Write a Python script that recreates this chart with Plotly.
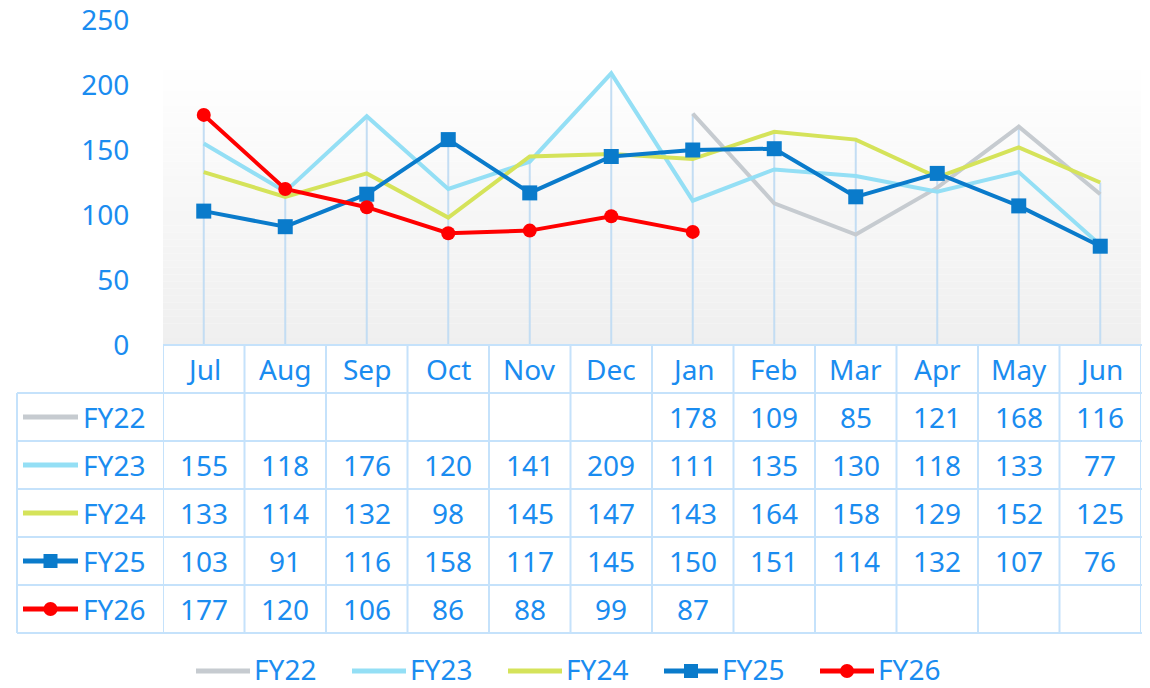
import plotly.graph_objects as go

months = ["Jul", "Aug", "Sep", "Oct", "Nov", "Dec", "Jan", "Feb", "Mar", "Apr", "May", "Jun"]
series_names = ["FY22", "FY23", "FY24", "FY25", "FY26"]
fy22 = [None, None, None, None, None, None, 178, 109, 85, 121, 168, 116]
fy23 = [155, 118, 176, 120, 141, 209, 111, 135, 130, 118, 133, 77]
fy24 = [133, 114, 132, 98, 145, 147, 143, 164, 158, 129, 152, 125]
fy25 = [103, 91, 116, 158, 117, 145, 150, 151, 114, 132, 107, 76]
fy26 = [177, 120, 106, 86, 88, 99, 87, None, None, None, None, None]
y_ticks = [0, 50, 100, 150, 200, 250]

colors = ["#c6cbd0", "#94dff5", "#d5e35a", "#0a7bcb", "#ff0000"]
widths = [4, 4, 4, 4, 4]
markers = [None, None, None, "square", "circle"]
data = [fy22, fy23, fy24, fy25, fy26]

W, H = 1150, 688
OFF = 8  # page body offset
TXT = "#1a8cf0"
GRID = "#c5e2fb"
FONT = "Noto Sans"


def py(y):
    return 1 - (y - OFF) / H


def px(x):
    return (x - OFF) / W


x_left, x_right = 163, 1141
y_axis_bottom, y_axis_top = 345, 20

fig = go.Figure()

# drop lines (from highest value of each category to axis)
dx, dy = [], []
for i, m in enumerate(months):
    vals = [s[i] for s in data if s[i] is not None]
    dx += [m, m, None]
    dy += [0, max(vals), None]
fig.add_trace(go.Scatter(x=dx, y=dy, mode="lines", line=dict(color="#c3ddf3", width=2),
                         hoverinfo="skip", showlegend=False))

for name, vals, c, w, mk in zip(series_names, data, colors, widths, markers):
    if mk:
        fig.add_trace(go.Scatter(x=months, y=vals, name=name, mode="lines+markers",
                                 line=dict(color=c, width=w),
                                 marker=dict(symbol=mk, size=15 if mk == "square" else 14, color=c),
                                 showlegend=False))
    else:
        fig.add_trace(go.Scatter(x=months, y=vals, name=name, mode="lines",
                                 line=dict(color=c, width=w), showlegend=False))

shapes = []
# gradient background of plot area
g_top, g_bot = 63, y_axis_bottom
nb = 40
for k in range(nb):
    y0 = g_top + (g_bot - g_top) * k / nb
    y1 = g_top + (g_bot - g_top) * (k + 1) / nb
    v = round(255 - 16 * (k + 0.5) / nb)
    shapes.append(dict(type="rect", xref="x domain", yref="paper", x0=0, x1=1,
                       y0=py(y1), y1=py(y0), fillcolor=f"rgb({v},{v},{v})",
                       line=dict(width=0), layer="below"))

# table grid
row_h = 48
header_top = y_axis_bottom
rows_top = header_top + row_h
table_bottom = rows_top + row_h * len(series_names)
lw = 2
shapes.append(dict(type="line", xref="paper", yref="paper", x0=px(x_left), x1=px(x_right + 1),
                   y0=py(header_top), y1=py(header_top), line=dict(color=GRID, width=lw)))
for r in range(len(series_names) + 1):
    y = rows_top + r * row_h
    shapes.append(dict(type="line", xref="paper", yref="paper", x0=px(17), x1=px(x_right + 1),
                       y0=py(y), y1=py(y), line=dict(color=GRID, width=lw)))
shapes.append(dict(type="line", xref="paper", yref="paper", x0=px(17), x1=px(17),
                   y0=py(rows_top), y1=py(table_bottom), line=dict(color=GRID, width=lw)))
for k in range(len(months) + 1):
    shapes.append(dict(type="line", xref="x", yref="paper", x0=k - 0.5, x1=k - 0.5,
                       y0=py(header_top), y1=py(table_bottom), line=dict(color=GRID, width=lw)))

annotations = []
fs = 28
for m in months:
    annotations.append(dict(x=m, xref="x", y=py(header_top + row_h / 2), yref="paper",
                            text=m, showarrow=False, font=dict(family=FONT, size=fs, color=TXT),
                            xanchor="center", yanchor="middle"))


def legend_key(x0, x1, yc, c, mk):
    out = [dict(type="line", xref="paper", yref="paper", x0=px(x0), x1=px(x1), y0=py(yc), y1=py(yc),
                line=dict(color=c, width=5))]
    xm = (x0 + x1) / 2
    if mk == "square":
        out.append(dict(type="rect", xref="paper", yref="paper", x0=px(xm - 7), x1=px(xm + 7),
                        y0=py(yc + 7), y1=py(yc - 7), fillcolor=c, line=dict(width=0)))
    elif mk == "circle":
        out.append(dict(type="circle", xref="paper", yref="paper", x0=px(xm - 7), x1=px(xm + 7),
                        y0=py(yc + 7), y1=py(yc - 7), fillcolor=c, line=dict(width=0)))
    return out


for r, (name, vals, c, mk) in enumerate(zip(series_names, data, colors, markers)):
    yc = rows_top + r * row_h + row_h / 2
    shapes += legend_key(23, 78, yc, c, mk)
    annotations.append(dict(x=px(81), xref="paper", y=py(yc), yref="paper", text=name,
                            showarrow=False, font=dict(family=FONT, size=fs, color=TXT),
                            xanchor="left", yanchor="middle"))
    for m, v in zip(months, vals):
        if v is None:
            continue
        annotations.append(dict(x=m, xref="x", y=py(yc), yref="paper", text=str(v),
                                showarrow=False, font=dict(family=FONT, size=fs, color=TXT),
                                xanchor="center", yanchor="middle"))

# bottom legend
leg_y = 669
leg_x0 = 196
pitch = 156
for i, (name, c, mk) in enumerate(zip(series_names, colors, markers)):
    x0 = leg_x0 + i * pitch
    shapes += legend_key(x0, x0 + 54, leg_y + 2, c, mk)
    annotations.append(dict(x=px(x0 + 57), xref="paper", y=py(leg_y), yref="paper", text=name,
                            showarrow=False, font=dict(family=FONT, size=fs, color=TXT),
                            xanchor="left", yanchor="middle", borderpad=0))

fig.update_layout(
    width=W, height=H,
    margin=dict(l=0, r=0, t=0, b=0, autoexpand=False),
    paper_bgcolor="white", plot_bgcolor="rgba(0,0,0,0)",
    showlegend=False,
    shapes=shapes, annotations=annotations,
    xaxis=dict(type="category", categoryarray=months, range=[-0.5, 11.5],
               domain=[px(x_left), px(x_right)], showticklabels=False, showgrid=False,
               zeroline=False, showline=False, ticks="", automargin=False),
    yaxis=dict(range=[0, 250], domain=[py(y_axis_bottom), py(y_axis_top)], tickvals=y_ticks,
               showgrid=False, zeroline=False, showline=False, ticks="outside", ticklen=27,
               tickcolor="rgba(0,0,0,0)", tickfont=dict(family=FONT, size=fs, color=TXT),
               automargin=False, ticklabeloverflow="allow"),
)

fig.write_html("out.html")
